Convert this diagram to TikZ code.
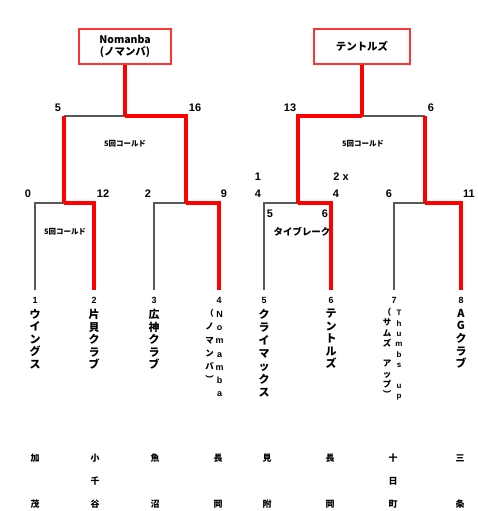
\documentclass[tikz,border=0pt]{standalone}
\usepackage{fontspec}
\setmainfont{Liberation Sans}
\newfontfamily\jp{Noto Sans CJK JP}
\begin{document}
\begin{tikzpicture}[x=1bp,y=-1bp,
  win/.style={red,line width=3.2bp},
  lose/.style={black!65,line width=2bp},
  champ/.style={draw=red!80,line width=1.4bp,fill=white,minimum width=92bp,minimum height=35bp,inner sep=0pt,align=center,font=\jp\bfseries\fontsize{10.5}{11.5}\selectfont},
  score/.style={font=\bfseries\fontsize{11}{12}\selectfont,inner sep=0pt},
  note/.style={font=\jp\bfseries\fontsize{7.5}{8}\selectfont,inner sep=0pt},
  tb/.style={font=\jp\bfseries\fontsize{9.5}{10}\selectfont,inner sep=0pt},
  leafnum/.style={font=\bfseries\fontsize{9}{10}\selectfont,inner sep=0pt},
  vname/.style={anchor=north,inner sep=0pt,align=center,font=\jp\bfseries\fontsize{11}{12.6}\selectfont},
  vsmall/.style={anchor=north,inner sep=0pt,align=center,font=\jp\bfseries\fontsize{8.5}{10.3}\selectfont},
  place/.style={font=\jp\bfseries\fontsize{9}{10}\selectfont,inner sep=0pt}]
\useasboundingbox (0,0) rectangle (478,511);
% champion boxes
\node[champ] (box1) at (125,46.5) {Nomanba\\(ノマンバ)};
\node[champ,minimum width=96bp] (box2) at (362,46.5) {テントルズ};
% coordinates
\coordinate (l1) at (35,290); \coordinate (l2) at (94,290);
\coordinate (l3) at (154,290); \coordinate (l4) at (219,290);
\coordinate (l5) at (264,290); \coordinate (l6) at (331,290);
\coordinate (l7) at (394,290); \coordinate (l8) at (461,290);
\coordinate (q1) at (64,203); \coordinate (q2) at (186,203);
\coordinate (q3) at (298,203); \coordinate (q4) at (425,203);
\coordinate (q1t) at (64,116); \coordinate (q4t) at (425,116);
\coordinate (s1) at (125,116); \coordinate (s2) at (362,116);
% left half
\draw[lose] (l1) |- (q1);
\draw[win] (l2) |- (q1);
\draw[lose] (l3) |- (q2);
\draw[win] (l4) |- (q2);
\draw[lose] (q1t) -- (s1);
\draw[win] (q1) -- (q1t);
\draw[win] (q2) |- (s1);
\draw[win] (s1) -- (box1.south);
% right half
\draw[lose] (l5) |- (q3);
\draw[win] (l6) |- (q3);
\draw[lose] (l7) |- (q4);
\draw[win] (l8) |- (q4);
\draw[lose] (s2) -- (q4t);
\draw[win] (q4) -- (q4t);
\draw[win] (q3) |- (s2);
\draw[win] (s2) -- (box2.south);
% scores
\node[score] (sc1) at (58,108) {5};
\node[score] (sc2) at (195,108) {16};
\node[score] (sc3) at (28,194) {0};
\node[score] (sc4) at (103,194) {12};
\node[score] (sc5) at (148,194) {2};
\node[score] (sc6) at (224,194) {9};
\node[score] (sc7) at (290,108) {13};
\node[score] (sc8) at (431,108) {6};
\node[score] (sc9) at (258,177) {1};
\node[score] (sc10) at (258,194) {4};
\node[score] (sc11) at (341,177) {2 x};
\node[score] (sc12) at (336,194) {4};
\node[score] (sc13) at (389,194) {6};
\node[score] (sc14) at (469,194) {11};
\node[score] (sc15) at (270,214) {5};
\node[score] (sc16) at (325,214) {6};
% notes
\node[note] (n1) at (125,144) {5回コールド};
\node[note] (n2) at (363,144) {5回コールド};
\node[note] (n3) at (65,232) {5回コールド};
\node[tb] (n4) at (302,232) {タイブレーク};
% leaf numbers
\foreach \i/\x in {1/35,2/94,3/154,4/219,5/264,6/331,7/394,8/461}
  \node[leafnum] (num\i) at (\x,300) {\i};
% team names (vertical)
\node[vname] (t1) at (35,309) {ウ\\イ\\ン\\グ\\ス};
\node[vname] (t2) at (94,309) {片\\貝\\ク\\ラ\\ブ};
\node[vname] (t3) at (154,309) {広\\神\\ク\\ラ\\ブ};
\node[vname,font=\bfseries\fontsize{9}{13.3}\selectfont] (t4a) at (219.5,311) {N\\o\\m\\a\\m\\b\\a};
\node[vname,font=\jp\bfseries\fontsize{8.5}{13.3}\selectfont] (t4b) at (209.5,309) {（\\ノ\\マ\\ン\\バ\\︶};
\node[vname,font=\jp\bfseries\fontsize{11}{13}\selectfont] (t5) at (264,309) {ク\\ラ\\イ\\マ\\ッ\\ク\\ス};
\node[vname] (t6) at (331,309) {テ\\ン\\ト\\ル\\ズ};
\node[vsmall,font=\bfseries\fontsize{8}{10.4}\selectfont] (t7a) at (399,310) {T\\h\\u\\m\\b\\s\\\mbox{}\\u\\p};
\node[vsmall] (t7b) at (387,308) {（\\サ\\ム\\ズ\\\mbox{}\\ア\\ッ\\プ\\︶};
\node[vname] (t8) at (461,309) {A\\G\\ク\\ラ\\ブ};
% places
\node[place] (p1a) at (35,458) {加};  \node[place] (p1c) at (35,504) {茂};
\node[place] (p2a) at (95,458) {小};  \node[place] (p2b) at (95,481) {千}; \node[place] (p2c) at (95,504) {谷};
\node[place] (p3a) at (155,458) {魚}; \node[place] (p3c) at (155,504) {沼};
\node[place] (p4a) at (218,458) {長}; \node[place] (p4c) at (218,504) {岡};
\node[place] (p5a) at (267,458) {見}; \node[place] (p5c) at (267,504) {附};
\node[place] (p6a) at (330,458) {長}; \node[place] (p6c) at (330,504) {岡};
\node[place] (p7a) at (393,458) {十}; \node[place] (p7b) at (393,481) {日}; \node[place] (p7c) at (393,504) {町};
\node[place] (p8a) at (460,458) {三}; \node[place] (p8c) at (460,504) {条};
\end{tikzpicture}
\end{document}
